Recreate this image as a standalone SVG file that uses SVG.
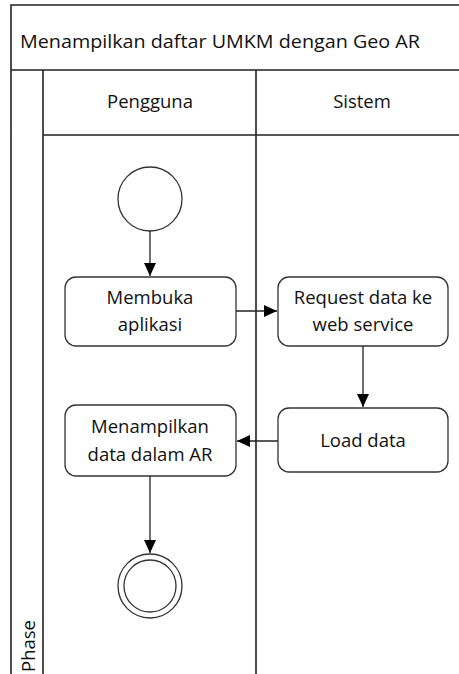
<svg xmlns="http://www.w3.org/2000/svg" width="459" height="674" viewBox="0 0 459 674">
<style>
.frame{fill:none;stroke:#222;stroke-width:1.6}
.node{fill:#fff;stroke:#333;stroke-width:1.3}
.conn{fill:none;stroke:#222;stroke-width:1.3}
text{font-family:"Open Sans","Noto Sans","Liberation Sans",sans-serif;font-size:18.5px;fill:#111}
.c{text-anchor:middle}
</style>
<defs>
<marker id="ah" viewBox="0 0 13 12" refX="13" refY="6" markerWidth="13" markerHeight="12" markerUnits="userSpaceOnUse" orient="auto">
<path d="M0,0 L13,6 L0,12 Z" fill="#000"/>
</marker>
</defs>
<rect width="459" height="674" fill="#fff"/>
<g id="pool">
<path class="frame" d="M11,674 V5 H459 M11,70 H459 M43,70 V674 M256,70 V674 M43,135 H459"/>
<text x="20" y="48" textLength="400" lengthAdjust="spacingAndGlyphs">Menampilkan daftar UMKM dengan Geo AR</text>
<text class="c" x="150" y="108">Pengguna</text>
<text class="c" x="362" y="108">Sistem</text>
<text x="35" y="672" transform="rotate(-90 35 672)">Phase</text>
</g>
<g id="start"><circle class="node" cx="150" cy="199" r="32"/></g>
<g id="membuka">
<rect class="node" x="65" y="277" width="171" height="69" rx="11"/>
<text class="c" x="150" y="304">Membuka</text>
<text class="c" x="150" y="331">aplikasi</text>
</g>
<g id="request">
<rect class="node" x="278" y="277" width="170" height="69" rx="11"/>
<text class="c" x="363" y="304">Request data ke</text>
<text class="c" x="363" y="331">web service</text>
</g>
<g id="load">
<rect class="node" x="278" y="408" width="170" height="64" rx="11"/>
<text class="c" x="363" y="447">Load data</text>
</g>
<g id="tampil">
<rect class="node" x="65" y="405" width="171" height="71" rx="11"/>
<text class="c" x="150" y="433">Menampilkan</text>
<text class="c" x="150" y="461">data dalam AR</text>
</g>
<g id="end">
<circle class="node" cx="150" cy="586" r="32"/>
<circle class="node" cx="150" cy="586" r="26"/>
</g>
<g id="connectors">
<path class="conn" d="M150,231 V276" marker-end="url(#ah)"/>
<path class="conn" d="M236,311 H277" marker-end="url(#ah)"/>
<path class="conn" d="M363,346 V407" marker-end="url(#ah)"/>
<path class="conn" d="M278,441 H237" marker-end="url(#ah)"/>
<path class="conn" d="M150,476 V553" marker-end="url(#ah)"/>
</g>
</svg>
